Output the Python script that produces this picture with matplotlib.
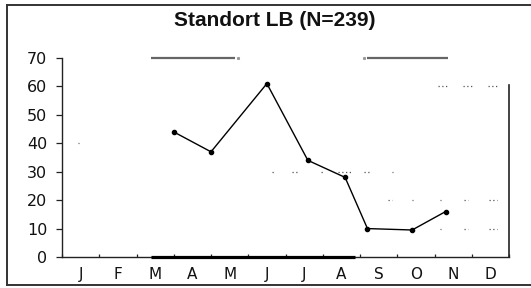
import matplotlib
matplotlib.use("Agg")
import matplotlib.pyplot as plt
from matplotlib.lines import Line2D

# ---- data ----
title = "Standort LB (N=239)"
months = ["J", "F", "M", "A", "M", "J", "J", "A", "S", "O", "N", "D"]
# sampling dates expressed as fractional month position (0 = start of January)
sample_pos = [3.0, 4.0, 5.5, 6.6, 7.6, 8.2, 9.4, 10.3]
sample_val = [44, 37, 61, 34, 28, 10, 9.5, 16]
y_ticks = [0, 10, 20, 30, 40, 50, 60, 70]

# period bars (month positions)
top_bars = [(2.4, 4.65), (8.2, 10.35)]
top_bar_dots = [4.72, 8.1]
bottom_bar = (2.4, 7.87)

# faint remnants of dotted grid lines: (level, start, end)
grid_fragments = [
    (40, 0.42, 0.46),
    (30, 5.65, 5.68), (30, 6.18, 6.3), (30, 6.96, 7.0), (30, 7.4, 7.75),
    (30, 8.1, 8.3), (30, 8.85, 8.88),
    (20, 8.75, 8.86), (20, 9.39, 9.42), (20, 10.14, 10.17), (20, 10.8, 10.9),
    (20, 11.45, 11.68),
    (10, 10.14, 10.17), (10, 10.8, 10.9), (10, 11.45, 11.68),
    (60, 10.1, 10.4), (60, 10.77, 11.06), (60, 11.44, 11.73),
]

plt.rcParams['font.family'] = ['DejaVu Sans']

fig = plt.figure(figsize=(5.31, 2.88), dpi=100)
ax = fig.add_axes([62/531, 1-257/288, (509-62)/531, (257-58)/288])

ax.set_xlim(0, 12)
ax.set_ylim(0, 70)

# grid fragments
for lvl, x0, x1 in grid_fragments:
    ax.plot([x0, x1], [lvl, lvl], color="#555555", lw=0.9,
            linestyle=(0, (1, 2)), solid_capstyle="butt")

# main series
ax.plot(sample_pos, sample_val, color="black", lw=1.0, marker="o",
        markersize=3.0, zorder=5)

# top period bars
for x0, x1 in top_bars:
    ax.plot([x0, x1], [70, 70], color="#666666", lw=1.6, clip_on=False,
            solid_capstyle="butt")
for xd in top_bar_dots:
    ax.plot([xd], [70], marker="s", markersize=1.2, color="#9a9a9a",
            clip_on=False, linestyle="none")

# bottom thick bar
ax.plot(list(bottom_bar), [0, 0], color="black", lw=2.3, clip_on=False,
        solid_capstyle="butt", zorder=6)

# spines
ax.spines["top"].set_visible(False)
ax.spines["right"].set_visible(False)
for s in ("left", "bottom"):
    ax.spines[s].set_linewidth(1.0)
    ax.spines[s].set_color("#222222")
ax.plot([12, 12], [0, 60.5], color="#222222", lw=1.2, clip_on=False)

ax.set_yticks(y_ticks)
ax.set_yticklabels([str(v) for v in y_ticks], fontsize=11.5)
ax.tick_params(axis="y", direction="out", length=4.5, width=0.9, pad=6,
               colors="#222222", labelcolor="#111111")

ax.set_xticks(range(13))
ax.set_xticklabels([])
ax.set_xticks([i + 0.5 for i in range(12)], minor=True)
ax.set_xticklabels(months, minor=True, fontsize=11)
ax.tick_params(axis="x", which="major", direction="in", length=2.5, width=0.9,
               colors="#222222")
ax.tick_params(axis="x", which="minor", length=0, pad=7, labelcolor="#111111")

fig.text(275/531, 1-21/288, title, ha="center", va="center",
         fontsize=15, fontweight="bold", color="#111111",
         family="Liberation Sans")

# outer frame
fig.add_artist(Line2D([7/531, 1.0], [1-5/288, 1-5/288], color="#333333", lw=1.4))
fig.add_artist(Line2D([7/531, 1.0], [1-285/288, 1-285/288], color="#333333", lw=1.4))
fig.add_artist(Line2D([7/531, 7/531], [1-5/288, 1-285/288], color="#333333", lw=1.4))

fig.savefig("out.png", dpi=100)
